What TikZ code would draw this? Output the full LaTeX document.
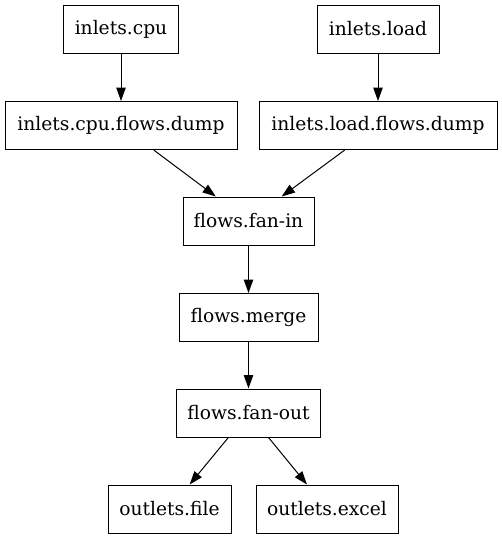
\documentclass[tikz,border=0pt]{standalone}
\usepackage{fontspec}
\setmainfont{DejaVu Serif}
\usetikzlibrary{arrows.meta}
\begin{document}
\begin{tikzpicture}[x=0.75pt,y=-0.75pt,
  box/.style={draw,line width=0.75pt,inner sep=0pt,minimum height=36pt,font=\fontsize{14pt}{16pt}\selectfont},
  conn/.style={line width=0.75pt,-{Triangle[length=10pt,width=7pt]}}]
\useasboundingbox (0,0) rectangle (501,539);
\node[box,minimum width=86.25pt] (cpu) at (121,29) {inlets.cpu};
\node[box,minimum width=91.5pt] (load) at (378,29) {inlets.load};
\node[box,minimum width=174pt] (cpudump) at (121,125.5) {inlets.cpu.flows.dump};
\node[box,minimum width=178.5pt] (loaddump) at (378,125.5) {inlets.load.flows.dump};
\node[box,minimum width=98.25pt] (fanin) at (248.5,221) {flows.fan-in};
\node[box,minimum width=104.25pt] (merge) at (248.5,317.5) {flows.merge};
\node[box,minimum width=108pt] (fanout) at (248.5,413) {flows.fan-out};
\node[box,minimum width=92.25pt] (file) at (169.5,509) {outlets.file};
\node[box,minimum width=106.5pt] (excel) at (327,509) {outlets.excel};
\draw[conn] (cpu) -- (cpudump);
\draw[conn] (load) -- (loaddump);
\draw[conn] (cpudump) -- (fanin);
\draw[conn] (loaddump) -- (fanin);
\draw[conn] (fanin) -- (merge);
\draw[conn] (merge) -- (fanout);
\draw[conn] (fanout) -- (file);
\draw[conn] (fanout) -- (excel);
\end{tikzpicture}
\end{document}
